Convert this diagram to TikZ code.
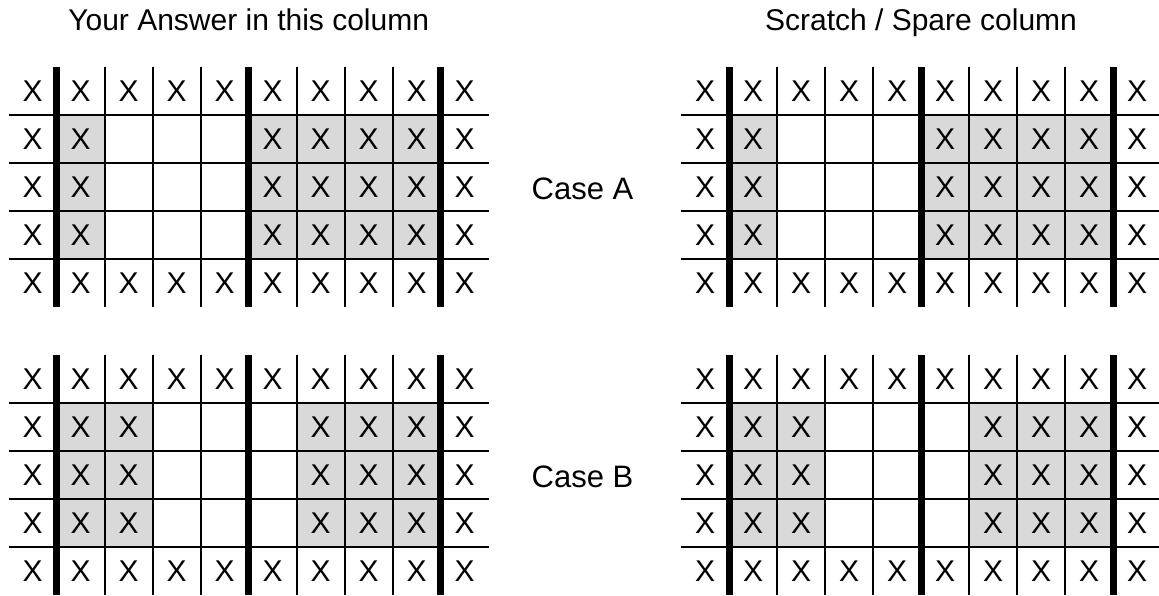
\documentclass[tikz,border=0pt]{standalone}
\usepackage{fontspec}
\setmainfont{Liberation Sans}
\usetikzlibrary{positioning}
\definecolor{cellgray}{RGB}{217,217,217}

\begin{document}
\begin{tikzpicture}[x=1pt, y=-1pt,
    xcell/.style={minimum size=48pt, inner sep=0pt, font=\fontsize{30}{30}\selectfont},
    graycell/.style={xcell, fill=cellgray},
    gridline/.style={line width=1.8pt},
    wall/.style={line width=7pt},
    heading/.style={font=\fontsize{30}{34}\selectfont},
    ]
	\useasboundingbox (0,0) rectangle (1159,596);

	% Column headings
	\node[heading, anchor=base] (answer) at (248.7,30.7) {Your Answer in this column};
	\node[heading, anchor=base] (spare) at (921,30.7) {Scratch / Spare column};

	% Case labels
	\node[heading, font=\fontsize{31}{34}\selectfont] (caseA) at (582.5,189) {Case A};
	\node[heading, font=\fontsize{31}{34}\selectfont] (caseB) at (582.5,477) {Case B};

	% Grids: name / left / top / shaded columns
	\foreach \g/\gx/\gy/\shaded in {LA/8.7/67/{1,5,6,7,8}, LB/8.7/355/{1,2,6,7,8},
	                               RA/681/67/{1,5,6,7,8}, RB/681/355/{1,2,6,7,8}} {
		% Shaded cells
		\foreach \c in \shaded
			\foreach \r in {1,2,3}
				\node[graycell] (\g-\r-\c) at (\gx+48*\c+24, \gy+48*\r+24) {X};
		% Top and bottom rows
		\foreach \c in {0,...,9}
			\foreach \r in {0,4}
				\node[xcell] (\g-\r-\c) at (\gx+48*\c+24, \gy+48*\r+24) {X};
		% Outer columns
		\foreach \r in {1,2,3}
			\foreach \c in {0,9}
				\node[xcell] (\g-\r-\c) at (\gx+48*\c+24, \gy+48*\r+24) {X};
		% Grid lines
		\foreach \r in {1,...,4}
			\draw[gridline] (\gx, \gy+48*\r) -- ++(480,0);
		\foreach \c in {2,3,4,6,7,8}
			\draw[gridline] (\gx+48*\c, \gy) -- ++(0,240);
		% Thick walls
		\foreach \c in {1,5,9}
			\draw[wall] (\gx+48*\c, \gy) -- ++(0,240);
	}
\end{tikzpicture}
\end{document}
